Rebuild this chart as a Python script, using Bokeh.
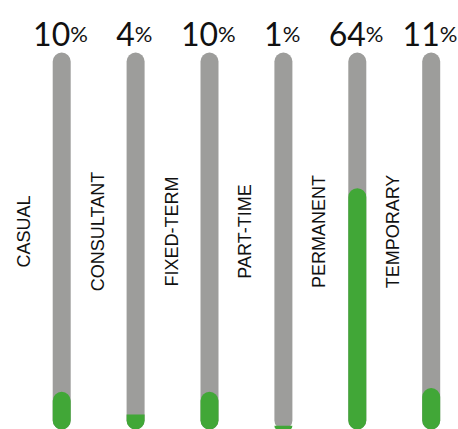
import math
from bokeh.plotting import figure
from bokeh.models import ColumnDataSource, Range1d
from bokeh.core.properties import value
from bokeh.embed import file_html
from bokeh.resources import INLINE

categories = ["CASUAL", "CONSULTANT", "FIXED-TERM", "PART-TIME", "PERMANENT", "TEMPORARY"]
percents = [10, 4, 10, 1, 64, 11]
number_labels = ["10", "4", "10", "1", "64", "11"]

W, H = 458, 429
px_per_x = 73.9
x0_px = 61.2
px_per_y = 3.77
bottom_px = 429
radius_px = 9

xs = list(range(len(categories)))
digit_w = 18.5
pct_w = 20.0
num_off = []
for s in number_labels:
    nw = len(s) * digit_w
    total = nw + pct_w
    num_off.append(-total / 2 + nw)

src = ColumnDataSource(dict(
    x=xs, cat=categories, pct=percents, num=number_labels,
    full=[100] * len(xs), off=num_off,
    pctsign=["%"] * len(xs),
))

tall = [i for i, v in enumerate(percents) if v * px_per_y >= 2 * radius_px]
short = [i for i, v in enumerate(percents) if v * px_per_y < 2 * radius_px]
src_tall = ColumnDataSource(dict(x=[xs[i] for i in tall], pct=[percents[i] for i in tall]))
src_short = ColumnDataSource(dict(x=[xs[i] for i in short], pct=[percents[i] for i in short]))

p = figure(width=W, height=H, output_backend="svg", toolbar_location=None,
           min_border=0, outline_line_color=None,
           x_range=Range1d(-x0_px / px_per_x, (W - x0_px) / px_per_x),
           y_range=Range1d(0, bottom_px / px_per_y))
p.axis.visible = False
p.grid.visible = False
p.background_fill_color = "white"
p.border_fill_color = "white"

bar_w = 18 / px_per_x
p.vbar(x="x", top="full", bottom=0, width=bar_w, source=src,
       fill_color="#9d9d9b", line_color=None, border_radius=radius_px)
p.vbar(x="x", top="pct", bottom=0, width=bar_w, source=src_tall,
       fill_color="#41a737", line_color=None, border_radius=radius_px)
p.vbar(x="x", top="pct", bottom=0, width=bar_w, source=src_short,
       fill_color="#41a737", line_color=None,
       border_radius=(0, 0, radius_px, radius_px))

label_y = (bottom_px - 231) / px_per_y
p.text(x="x", y=label_y, text="cat", source=src, angle=math.pi / 2,
       x_offset=-38, text_align="center", text_baseline="alphabetic",
       text_font=value("Liberation Sans"), text_font_size="18px",
       text_color="#111111")

num_y = (bottom_px - 33) / px_per_y
p.text(x="x", y=num_y, text="num", source=src, x_offset="off",
       text_align="right", text_baseline="alphabetic",
       text_font=value("Lato"), text_font_size="32px", text_color="#111111")
p.text(x="x", y=num_y, text="pctsign", source=src, x_offset="off",
       text_align="left", text_baseline="alphabetic",
       text_font=value("Lato"), text_font_size="22px", text_color="#111111")

open("out.html", "w").write(file_html(p, INLINE))
